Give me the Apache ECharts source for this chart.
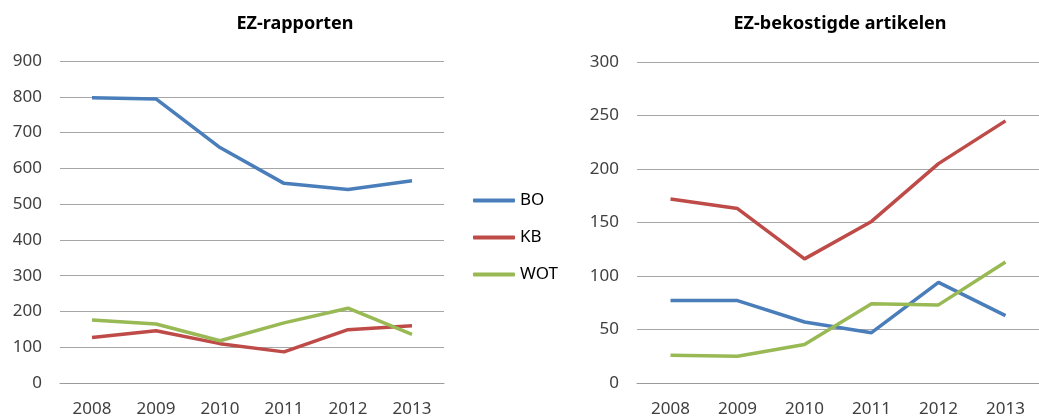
<!DOCTYPE html>
<html><head><meta charset="utf-8">
<script src="https://cdn.jsdelivr.net/npm/echarts@6/dist/echarts.min.js"></script>
<style>html,body{margin:0;padding:0;background:#fff}#c{width:1039px;height:418px}</style>
</head><body><div id="c"></div>
<script>
const years = ['2008','2009','2010','2011','2012','2013'];
const seriesNames = ['BO','KB','WOT'];
const colors = ['#4a7ebb','#be4b48','#98b954'];
// EZ-rapporten
const rapBO = [797, 794, 658, 558, 541, 565];
const rapKB = [127, 146, 110, 87, 149, 160];
const rapWOT = [176, 165, 118, 168, 209, 136];
// EZ-bekostigde artikelen
const artBO = [77, 77, 57, 47, 94, 63];
const artKB = [172, 163, 116, 151, 205, 245];
const artWOT = [26, 25, 36, 74, 73, 113];
const titles = ['EZ-rapporten','EZ-bekostigde artikelen'];

const font = 'Noto Sans, Open Sans, sans-serif';
const labelStyle = {color:'#404040', fontSize:17, fontFamily:font};
function xAxis(i){return {type:'category', gridIndex:i, data:years, boundaryGap:true,
  axisLine:{show:true, lineStyle:{color:'#9a9a9a', width:1}}, axisTick:{show:false},
  axisLabel:Object.assign({margin:18}, labelStyle)};}
function yAxis(i,max,interval){return {type:'value', gridIndex:i, min:0, max:max, interval:interval,
  axisLine:{show:false}, axisTick:{show:false},
  splitLine:{lineStyle:{color:'#a6a6a6', width:1}},
  axisLabel:Object.assign({margin:18}, labelStyle)};}
function line(name, data, i, c){return {name:name, type:'line', xAxisIndex:i, yAxisIndex:i, data:data,
  symbol:'none', lineStyle:{width:3.5, color:c}, itemStyle:{color:c}, animation:false};}

const chart = echarts.init(document.getElementById('c'), null, {renderer:'canvas'});
chart.setOption({
  animation:false,
  title:[
    {text:titles[0], left:290, top:10, textAlign:'center', textStyle:{fontSize:18, fontWeight:'bold', color:'#000', fontFamily:font}},
    {text:titles[1], left:835, top:10, textAlign:'center', textStyle:{fontSize:18, fontWeight:'bold', color:'#000', fontFamily:font}}
  ],
  legend:{orient:'vertical', left:468, top:187, itemWidth:42, itemHeight:4, itemGap:20, icon:'roundRect',
    data:seriesNames, textStyle:{color:'#000', fontSize:17, fontFamily:font}},
  grid:[
    {left:60, right:595, top:61, bottom:35},
    {left:637, right:-11, top:62, bottom:35}
  ],
  xAxis:[xAxis(0), xAxis(1)],
  yAxis:[yAxis(0,900,100), yAxis(1,300,50)],
  series:[
    line('BO', rapBO, 0, colors[0]),
    line('KB', rapKB, 0, colors[1]),
    line('WOT', rapWOT, 0, colors[2]),
    line('BO', artBO, 1, colors[0]),
    line('KB', artKB, 1, colors[1]),
    line('WOT', artWOT, 1, colors[2])
  ]
});
</script></body></html>
